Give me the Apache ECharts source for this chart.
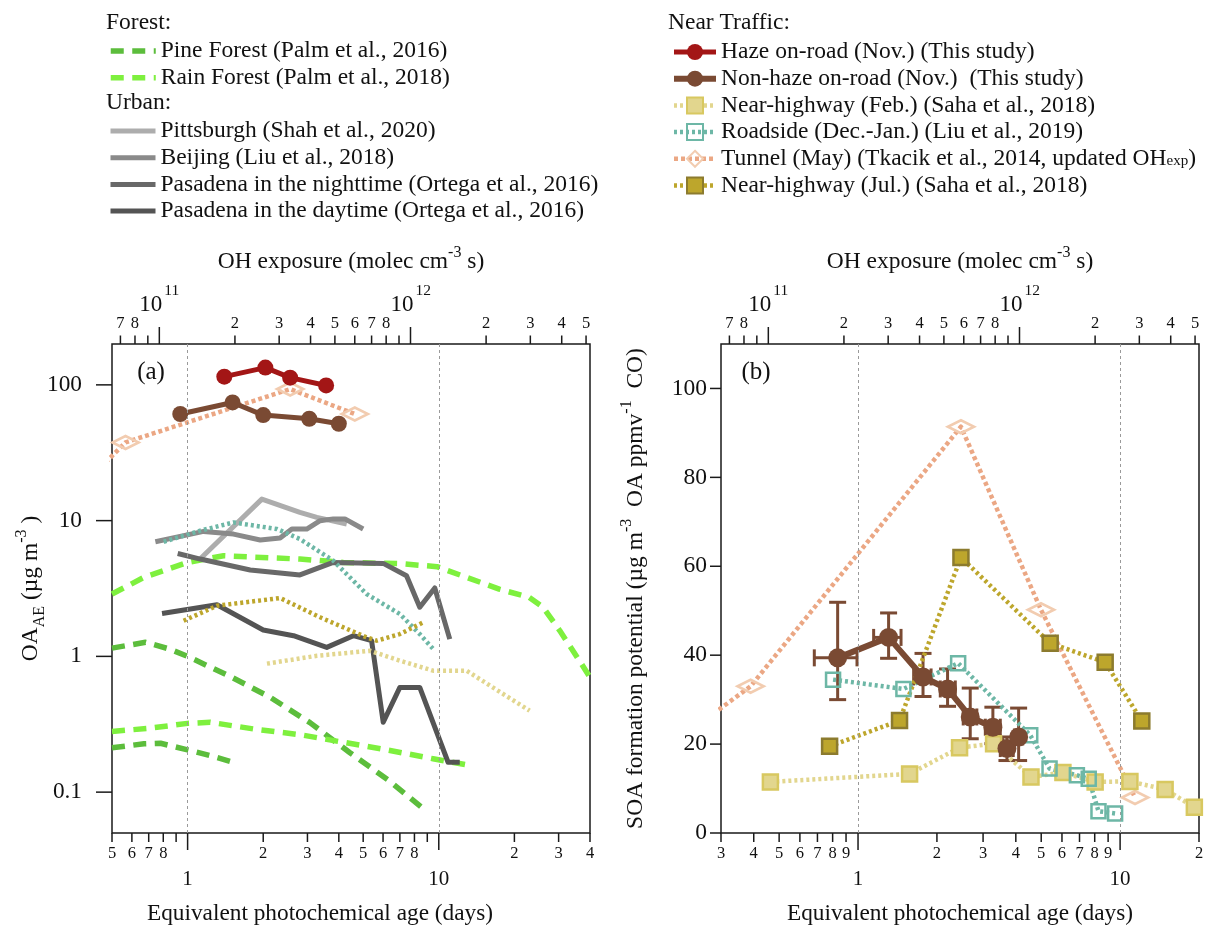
<!DOCTYPE html>
<html><head><meta charset="utf-8">
<script src="https://cdn.jsdelivr.net/npm/echarts@6/dist/echarts.min.js"></script>
<style>html,body{margin:0;padding:0;background:#fff}#c{width:1210px;height:929px}</style>
</head><body><div id="c"></div>
<script>
// ---------------- DATA ----------------
// Panel (a): OA (ug m-3) vs equivalent photochemical age (days)
const pineA_x = [0.5, 0.68, 0.85, 1.0, 1.48, 2.13, 3.07, 4.43, 6.39, 8.56];
const pineA_y = [1.15, 1.27, 1.13, 1.0, 0.71, 0.5, 0.325, 0.195, 0.12, 0.077];
const pineB_x = [0.5, 0.67, 0.78, 1.0, 1.23, 1.52];
const pineB_y = [0.212, 0.227, 0.229, 0.205, 0.186, 0.166];
const rainA_x = [0.5, 0.67, 1.0, 1.39, 2.8, 4.17, 7.0, 9.84, 12.9, 17.4, 22.9, 26.0, 30.3, 36.3, 40];
const rainA_y = [2.88, 3.82, 4.92, 5.51, 5.21, 4.92, 4.82, 4.58, 3.82, 3.13, 2.72, 2.30, 1.55, 0.93, 0.70];
const rainB_x = [0.5, 0.7, 1.0, 1.23, 1.83, 2.8, 4.17, 6.2, 9.49, 12.9];
const rainB_y = [0.28, 0.295, 0.321, 0.327, 0.292, 0.265, 0.233, 0.205, 0.176, 0.159];
const pitt_x = [1.11, 1.975, 2.80, 3.27, 4.30];
const pitt_y = [5.13, 14.4, 11.5, 10.56, 9.44];
const beij_x = [0.744, 1.158, 1.523, 1.945, 2.335, 2.60, 2.98, 3.37, 3.80, 4.23, 5.0];
const beij_y = [6.99, 8.33, 7.96, 7.20, 7.44, 8.67, 8.67, 9.98, 10.3, 10.3, 8.67];
const night_x = [0.913, 1.123, 1.775, 2.80, 3.80, 6.01, 7.44, 8.40, 9.64, 11.06];
const night_y = [5.73, 5.21, 4.33, 3.98, 4.92, 4.84, 3.93, 2.30, 3.19, 1.34];
const day_x = [0.791, 1.309, 2.00, 2.64, 3.58, 4.57, 5.40, 6.01, 7.0, 8.40, 10.89, 12.12];
const day_y = [2.07, 2.40, 1.565, 1.42, 1.165, 1.42, 1.305, 0.327, 0.591, 0.591, 0.166, 0.166];
const roadL_x = [0.803, 1.123, 1.523, 2.27, 2.80, 3.80, 5.16, 7.0, 8.40, 9.64];
const roadL_y = [6.99, 8.43, 9.70, 8.67, 7.32, 5.07, 2.88, 2.05, 1.46, 1.10];
const febL_x = [2.07, 3.27, 5.32, 7.0, 9.49, 12.9, 16.4, 23.0];
const febL_y = [0.884, 1.01, 1.10, 0.93, 0.785, 0.785, 0.591, 0.398];
const julL_x = [0.964, 1.309, 2.335, 3.37, 5.16, 5.66, 7.0, 8.67];
const julL_y = [1.83, 2.36, 2.69, 1.94, 1.38, 1.305, 1.46, 1.78];
const tunL_x = [0.45, 0.566, 2.56, 4.63];
const tunL_y = [24.6, 37.7, 93.1, 61];
const nonhazeL_x = [0.935, 1.51, 2.0, 3.05, 4.0];
const nonhazeL_y = [61, 74.2, 59.9, 56.3, 51.7];
const hazeL_x = [1.40, 2.04, 2.56, 3.56];
const hazeL_y = [115, 134, 113, 99];

// Panel (b): SOA formation potential vs equivalent photochemical age (days)
const tunR_x = [0.28, 0.389, 2.47, 4.99, 11.4];
const tunR_y = [26.8, 33.0, 91.4, 50.2, 8.0];
const febR_x = [0.463, 1.573, 2.44, 3.29, 4.57, 6.05, 8.03, 10.9, 14.85, 19.2];
const febR_y = [11.5, 13.3, 19.2, 20.1, 12.6, 13.6, 11.5, 11.6, 9.8, 5.8];
const roadR_x = [0.803, 1.49, 2.41, 4.54, 5.38, 6.84, 7.59, 8.27, 9.57];
const roadR_y = [34.5, 32.4, 38.2, 22.0, 14.5, 13.0, 12.2, 4.9, 4.4];
const julR_x = [0.779, 1.44, 2.47, 5.41, 8.77, 12.1];
const julR_y = [19.5, 25.3, 62.0, 42.7, 38.4, 25.2];
const nonhazeR_x = [0.836, 1.308, 1.77, 2.196, 2.68, 3.27, 3.70, 4.10];
const nonhazeR_y = [39.4, 44.0, 35.1, 32.4, 26.1, 23.8, 19.0, 21.6];
const nonhazeR_ylo = [30.0, 39.3, 30.7, 28.5, 21.2, 20.1, 16.3, 16.3];
const nonhazeR_yhi = [51.9, 49.5, 40.4, 36.9, 32.6, 28.3, 21.6, 28.1];
const nonhazeR_xlo = [0.681, 1.147, 1.63, 2.06, 2.52, 3.06, 3.49, 3.95];
const nonhazeR_xhi = [0.991, 1.459, 1.90, 2.35, 2.84, 3.49, 3.91, 4.25];

// Tick values and labels
const dayMajor = [1, 10];
const leftDayTicks = [0.5, 0.6, 0.7, 0.8, 0.9, 2, 3, 4, 5, 6, 7, 8, 9, 20, 30, 40];
const leftDayLabels = ['5','6','7','8','','2','3','4','5','6','7','8','','2','3','4'];
const rightDayTicks = [0.3, 0.4, 0.5, 0.6, 0.7, 0.8, 0.9, 2, 3, 4, 5, 6, 7, 8, 9, 20];
const rightDayLabels = ['3','4','5','6','7','8','9','2','3','4','5','6','7','8','9','2'];
const ohMajor = [1e11, 1e12];
const ohMajorExp = ['11', '12'];
const ohTicks = [7e10, 8e10, 9e10, 2e11, 3e11, 4e11, 5e11, 6e11, 7e11, 8e11, 9e11, 2e12, 3e12, 4e12, 5e12];
const ohLabels = ['7','8','','2','3','4','5','6','7','8','','2','3','4','5'];
const leftYTicks = [0.1, 1, 10, 100];
const rightYTicks = [0, 20, 40, 60, 80, 100];

const N = {
  pine: 'Pine Forest (Palm et al., 2016)', rain: 'Rain Forest (Palm et al., 2018)',
  pitt: 'Pittsburgh (Shah et al., 2020)', beij: 'Beijing (Liu et al., 2018)',
  night: 'Pasadena in the nighttime (Ortega et al., 2016)', day: 'Pasadena in the daytime (Ortega et al., 2016)',
  haze: 'Haze on-road (Nov.) (This study)', nonhaze: 'Non-haze on-road (Nov.)  (This study)',
  feb: 'Near-highway (Feb.) (Saha et al., 2018)', road: 'Roadside (Dec.-Jan.) (Liu et al., 2019)',
  tun: 'Tunnel (May) (Tkacik et al., 2014, updated OH_exp)', jul: 'Near-highway (Jul.) (Saha et al., 2018)'
};

// ---------------- STYLE ----------------
const FONT = 'Liberation Serif';
const INK = '#111';
const C = {
  pine: '#5CBD3C', rain: '#7EF03E', pitt: '#ADADAD', beij: '#8A8A8A', night: '#686868', day: '#545454',
  haze: '#A31616', nonhaze: '#7A4A33', feb: '#E2D68E', febB: '#D8C860', road: '#6DB7A6',
  tun: '#EBA784', tunB: '#F2CCB0', jul: '#BDA62C', julB: '#8C7B2E'
};
const OH_MIN = 0.5 * 1.296e11, OH_MAX = 40 * 1.296e11;

function pts(xs, ys) { return xs.map((x, i) => [x, ys[i]]); }
function line(name, xi, yi, xs, ys, color, width, type, extra) {
  return Object.assign({
    type: 'line', name, xAxisIndex: xi, yAxisIndex: yi, data: pts(xs, ys),
    symbol: 'none', silent: true, clip: true,
    lineStyle: { color, width, type: type || 'solid', cap: 'butt', join: 'round' },
    itemStyle: { color }, emphasis: { disabled: true }
  }, extra || {});
}
const DASH = [13, 8.5], DOT = [3, 3], DOT2 = [4, 3];
const vLines = {
  silent: true, symbol: 'none', label: { show: false }, animation: false,
  lineStyle: { color: '#9a9a9a', type: [3, 3], width: 1 },
  data: [{ xAxis: 1 }, { xAxis: 10 }]
};

function majorOnly(v) {
  const l = Math.log10(v);
  return Math.abs(l - Math.round(l)) < 1e-6 ? String(Math.round(v * 1000) / 1000) : '';
}

const tunR = line(N.tun, 2, 1, tunR_x, tunR_y, C.tun, 4.5, DOT2, {
  symbol: 'diamond', symbolSize: [26, 13],
  itemStyle: { color: 'rgba(255,255,255,0)', borderColor: C.tunB, borderWidth: 3 },
  markLine: vLines
});
tunR.data[0] = { value: tunR.data[0], symbol: 'none' };
const tunL = line(N.tun, 0, 0, tunL_x, tunL_y, C.tun, 4.5, DOT2, {
  symbol: 'diamond', symbolSize: [26, 13],
  itemStyle: { color: 'rgba(255,255,255,0)', borderColor: C.tunB, borderWidth: 3 }
});
tunL.data[0] = { value: tunL.data[0], symbol: 'none' };

const series = [
  // ---- panel (b) (listed first so legend icons show markers)
  tunR,
  line(N.feb, 2, 1, febR_x, febR_y, C.feb, 4.5, DOT, {
    symbol: 'rect', symbolSize: 15, itemStyle: { color: C.feb, borderColor: C.febB, borderWidth: 2.5 } }),
  line(N.road, 2, 1, roadR_x, roadR_y, C.road, 4.5, DOT, {
    symbol: 'rect', symbolSize: 14, itemStyle: { color: 'rgba(255,255,255,0)', borderColor: C.road, borderWidth: 2.5 } }),
  line(N.jul, 2, 1, julR_x, julR_y, C.jul, 4.5, DOT, {
    symbol: 'rect', symbolSize: 15, itemStyle: { color: C.jul, borderColor: C.julB, borderWidth: 2.5 } }),
  {
    type: 'custom', name: 'err', xAxisIndex: 2, yAxisIndex: 1, silent: true,
    data: nonhazeR_x.map((x, i) => [x, nonhazeR_y[i], nonhazeR_ylo[i], nonhazeR_yhi[i], nonhazeR_xlo[i], nonhazeR_xhi[i]]),
    encode: { x: 0, y: 1 },
    renderItem: function (params, api) {
      const c = api.coord([api.value(0), api.value(1)]);
      const lo = api.coord([api.value(0), api.value(2)]);
      const hi = api.coord([api.value(0), api.value(3)]);
      const l = api.coord([api.value(4), api.value(1)]);
      const r = api.coord([api.value(5), api.value(1)]);
      const w = 8.5;
      const st = { stroke: C.nonhaze, lineWidth: 3 };
      const L = (x1, y1, x2, y2) => ({ type: 'line', shape: { x1, y1, x2, y2 }, style: st });
      return { type: 'group', children: [
        L(c[0], lo[1], c[0], hi[1]), L(c[0] - w, lo[1], c[0] + w, lo[1]), L(c[0] - w, hi[1], c[0] + w, hi[1]),
        L(l[0], c[1], r[0], c[1]), L(l[0], c[1] - w, l[0], c[1] + w), L(r[0], c[1] - w, r[0], c[1] + w)
      ] };
    }
  },
  line(N.nonhaze, 2, 1, nonhazeR_x, nonhazeR_y, C.nonhaze, 6, 'solid', {
    symbol: 'circle', symbolSize: 19, itemStyle: { color: C.nonhaze } }),
  // ---- panel (a)
  line(N.pine, 0, 0, pineA_x, pineA_y, C.pine, 5.5, DASH, { markLine: vLines }),
  line(N.pine, 0, 0, pineB_x, pineB_y, C.pine, 5.5, DASH),
  line(N.rain, 0, 0, rainA_x, rainA_y, C.rain, 5.5, DASH),
  line(N.rain, 0, 0, rainB_x, rainB_y, C.rain, 5.5, DASH),
  line(N.pitt, 0, 0, pitt_x, pitt_y, C.pitt, 5),
  line(N.beij, 0, 0, beij_x, beij_y, C.beij, 5),
  line(N.night, 0, 0, night_x, night_y, C.night, 5),
  line(N.day, 0, 0, day_x, day_y, C.day, 5),
  line(N.road, 0, 0, roadL_x, roadL_y, C.road, 4.5, DOT),
  line(N.feb, 0, 0, febL_x, febL_y, C.feb, 4.5, DOT),
  line(N.jul, 0, 0, julL_x, julL_y, C.jul, 4.5, DOT),
  tunL,
  line(N.nonhaze, 0, 0, nonhazeL_x, nonhazeL_y, C.nonhaze, 5, 'solid', {
    symbol: 'circle', symbolSize: 16, itemStyle: { color: C.nonhaze } }),
  line(N.haze, 0, 0, hazeL_x, hazeL_y, C.haze, 5, 'solid', {
    symbol: 'circle', symbolSize: 16, itemStyle: { color: C.haze } })
];

const supRich = {
  sup: { fontFamily: FONT, fontSize: 16, color: INK, lineHeight: 14, verticalAlign: 'top' },
  sub: { fontFamily: FONT, fontSize: 16, color: INK, lineHeight: 22, verticalAlign: 'bottom' }
};
const nameStyle = { fontFamily: FONT, fontSize: 23.5, color: INK, lineHeight: 34, rich: supRich };

function gridDef(left) {
  return { left, top: 344, width: 478, height: 489, show: true, borderColor: '#1a1a1a', borderWidth: 1.5,
    backgroundColor: 'rgba(0,0,0,0)', containLabel: false, outerBoundsMode: 'none' };
}
const hideAxis = { axisLine: { show: false }, axisTick: { show: false }, splitLine: { show: false }, minorTick: { show: false }, minorSplitLine: { show: false } };

const legendBase = {
  orient: 'vertical', padding: 0, itemWidth: 45, itemHeight: 20, itemGap: 2.7, selectedMode: false,
  lineStyle: { width: 'inherit' },
  textStyle: { fontFamily: FONT, fontSize: 23.5, color: INK, lineHeight: 20 }
};

const option = {
  animation: false,
  textStyle: { fontFamily: FONT },
  grid: [gridDef(112), gridDef(721)],
  xAxis: [
    Object.assign({ type: 'log', logBase: 10, gridIndex: 0, position: 'bottom', min: 0.5, max: 40,
      axisLabel: { formatter: majorOnly, fontFamily: FONT, fontSize: 21, color: INK, margin: 36 },
      name: 'Equivalent photochemical age (days)', nameLocation: 'middle', nameGap: 69, nameMoveOverlap: false,
      nameTextStyle: { fontFamily: FONT, fontSize: 23.3, color: INK, padding: [0, 62, 0, 0] } }, hideAxis),
    Object.assign({ type: 'log', logBase: 10, gridIndex: 0, position: 'top', min: OH_MIN, max: OH_MAX,
      axisLabel: { show: false },
      name: 'OH exposure (molec cm{sup|-3} s)', nameLocation: 'middle', nameGap: 65, nameMoveOverlap: false,
      nameTextStyle: nameStyle }, hideAxis),
    Object.assign({ type: 'log', logBase: 10, gridIndex: 1, position: 'bottom', min: 0.3, max: 20,
      axisLabel: { formatter: majorOnly, fontFamily: FONT, fontSize: 21, color: INK, margin: 36 },
      name: 'Equivalent photochemical age (days)', nameLocation: 'middle', nameGap: 69, nameMoveOverlap: false,
      nameTextStyle: { fontFamily: FONT, fontSize: 23.3, color: INK } }, hideAxis),
    Object.assign({ type: 'log', logBase: 10, gridIndex: 1, position: 'top', min: OH_MIN, max: OH_MAX,
      axisLabel: { show: false },
      name: 'OH exposure (molec cm{sup|-3} s)', nameLocation: 'middle', nameGap: 65, nameMoveOverlap: false,
      nameTextStyle: nameStyle }, hideAxis)
  ],
  yAxis: [
    Object.assign({ type: 'log', logBase: 10, gridIndex: 0, min: 0.05, max: 200,
      axisLabel: { formatter: majorOnly, fontFamily: FONT, fontSize: 23.3, color: INK, margin: 30 },
      name: 'OA{sub|AE} (µg m{sup|-3} )', nameLocation: 'middle', nameRotate: 90, nameGap: 64, nameMoveOverlap: false,
      nameTextStyle: nameStyle }, hideAxis),
    Object.assign({ type: 'value', gridIndex: 1, min: 0, max: 110, interval: 20,
      axisLabel: { formatter: v => (v > 100 ? '' : String(v)), fontFamily: FONT, fontSize: 23.5, color: INK, margin: 14 },
      name: 'SOA formation potential (µg m{sup|-3}  OA ppmv{sup|-1}  CO)', nameLocation: 'middle', nameRotate: 90,
      nameGap: 68, nameMoveOverlap: false, nameTextStyle: nameStyle }, hideAxis)
  ],
  legend: [
    Object.assign({}, legendBase, { left: 108, top: 39, data: [N.pine, N.rain], itemStyle: { opacity: 0 } }),
    Object.assign({}, legendBase, { left: 108, top: 119, data: [N.pitt, N.beij, N.night, N.day], itemStyle: { opacity: 0 } }),
    Object.assign({}, legendBase, { left: 671, top: 40, itemWidth: 42,
      data: [N.haze, N.nonhaze, N.feb, N.road, N.tun, N.jul],
      formatter: n => n.replace('OH_exp', 'OH{sub|exp}'),
      textStyle: { fontFamily: FONT, fontSize: 23.5, color: INK, lineHeight: 20,
        rich: { sub: { fontFamily: FONT, fontSize: 15, color: INK, lineHeight: 12, verticalAlign: 'bottom' } } } })
  ],
  series
};

const chart = echarts.init(document.getElementById('c'), null, { renderer: 'canvas', width: 1210, height: 929 });
chart.setOption(option);

// ---- ticks and minor labels, positioned through the axes' own scales
const X = (i, v) => chart.convertToPixel({ xAxisIndex: i }, v);
const Y = (i, v) => chart.convertToPixel({ yAxisIndex: i }, v);
const g = [];
function tick(x1, y1, x2, y2) {
  g.push({ type: 'line', silent: true, z: 50, shape: { x1, y1, x2, y2 }, style: { stroke: '#1a1a1a', lineWidth: 1.5 } });
}
function txt(x, y, text, size, align, extra) {
  g.push({ type: 'text', silent: true, z: 50, x, y,
    style: Object.assign({ text, fontFamily: FONT, fontSize: size, fill: INK,
      align: align || 'center', verticalAlign: 'middle', textAlign: align || 'center', textVerticalAlign: 'middle' }, extra || {}) });
}
function panel(xb, xt, yi, dayTicks, dayLabels, leftX, yTicks, yTickLen, yMin, yMax) {
  const bottom = Y(yi, yMin), top = Y(yi, yMax);
  dayTicks.forEach((v, k) => { const x = X(xb, v); tick(x, bottom, x, bottom + 9); if (dayLabels[k]) txt(x, bottom + 21, dayLabels[k], 16.5); });
  dayMajor.forEach(v => { const x = X(xb, v); tick(x, bottom, x, bottom + 17); });
  ohTicks.forEach((v, k) => { const x = X(xt, v); tick(x, top, x, top - 8.5); if (ohLabels[k]) txt(x, top - 20, ohLabels[k], 16.5); });
  ohMajor.forEach((v, k) => {
    const x = X(xt, v); tick(x, top, x, top - 17);
    txt(x + 3, top - 39, '10', 23, 'right');
    txt(x + 5, top - 53, ohMajorExp[k], 15.5, 'left');
  });
  yTicks.forEach(v => { const y = Y(yi, v); tick(leftX - yTickLen, y, leftX, y); });
}
panel(0, 1, 0, leftDayTicks, leftDayLabels, 112, leftYTicks, 16, 0.05, 200);
panel(2, 3, 1, rightDayTicks, rightDayLabels, 721, rightYTicks, 11, 0, 110);
txt(106, 23, 'Forest:', 23.5, 'left');
txt(106, 103, 'Urban:', 23.5, 'left');
txt(668, 23, 'Near Traffic:', 23.5, 'left');
txt(151, 372, '(a)', 25, 'center');
txt(756, 372, '(b)', 25, 'center');
chart.setOption({ graphic: g });
</script></body></html>
